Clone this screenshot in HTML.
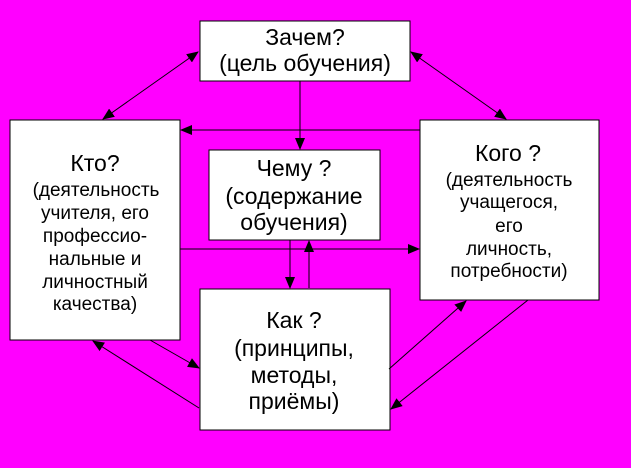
<!DOCTYPE html>
<html><head><meta charset="utf-8"><style>
html,body{margin:0;padding:0;background:#ff00ff;}
svg{display:block}
text{font-family:"Liberation Sans",sans-serif;fill:#000;text-anchor:middle}
</style></head><body>
<svg width="631" height="468" viewBox="0 0 631 468" xmlns="http://www.w3.org/2000/svg">
<defs>
<marker id="a" markerWidth="12" markerHeight="10" refX="11" refY="5" orient="auto" markerUnits="userSpaceOnUse">
<path d="M0,0 L12,5 L0,10 z" fill="#000"/></marker>
<marker id="s" markerWidth="12" markerHeight="10" refX="1" refY="5" orient="auto" markerUnits="userSpaceOnUse">
<path d="M12,0 L0,5 L12,10 z" fill="#000"/></marker>
</defs>
<rect width="631" height="468" fill="#ff00ff"/>
<g fill="#fff" stroke="#000" stroke-width="1">
<rect x="200" y="21" width="210" height="60"/>
<rect x="10" y="120" width="170" height="220"/>
<rect x="209" y="150" width="171" height="90"/>
<rect x="420" y="120" width="179" height="180"/>
<rect x="200" y="289" width="190" height="141"/>
</g>
<g stroke="#000" stroke-width="1" fill="none">
<line x1="198" y1="52" x2="103" y2="119" marker-start="url(#s)" marker-end="url(#a)"/>
<line x1="411" y1="52" x2="506" y2="119" marker-start="url(#s)" marker-end="url(#a)"/>
<line x1="420" y1="130" x2="181" y2="130" marker-end="url(#a)"/>
<line x1="300" y1="81" x2="300" y2="149" marker-end="url(#a)"/>
<line x1="180" y1="249" x2="419" y2="249" marker-end="url(#a)"/>
<line x1="290" y1="240" x2="290" y2="288" marker-end="url(#a)"/>
<line x1="309" y1="288" x2="309" y2="241" marker-end="url(#a)"/>
<line x1="150" y1="340" x2="199" y2="368" marker-end="url(#a)"/>
<line x1="199" y1="408" x2="93" y2="341" marker-end="url(#a)"/>
<line x1="389" y1="369" x2="466" y2="301" marker-end="url(#a)"/>
<line x1="528" y1="300" x2="391" y2="409" marker-end="url(#a)"/>
</g>
<g font-size="23">
<text x="305" y="45">Зачем?</text>
<text x="305" y="71">(цель обучения)</text>
<text x="294" y="176">Чему ?</text>
<text x="294" y="204">(содержание</text>
<text x="294" y="230">обучения)</text>
<text x="294" y="328">Как ?</text>
<text x="294" y="356">(принципы,</text>
<text x="294" y="383">методы,</text>
<text x="294" y="409">приёмы)</text>
<text x="95" y="171">Кто?</text>
<text x="508" y="161">Кого ?</text>
</g>
<g font-size="19">
<text x="96" y="196">(деятельность</text>
<text x="95" y="219">учителя, его</text>
<text x="95" y="242">профессио-</text>
<text x="95" y="265">нальные и</text>
<text x="95" y="288">личностный</text>
<text x="95" y="310">качества)</text>
<text x="509" y="186">(деятельность</text>
<text x="509" y="208">учащегося,</text>
<text x="509" y="232">его</text>
<text x="509" y="255">личность,</text>
<text x="509" y="277">потребности)</text>
</g>
</svg>
</body></html>
